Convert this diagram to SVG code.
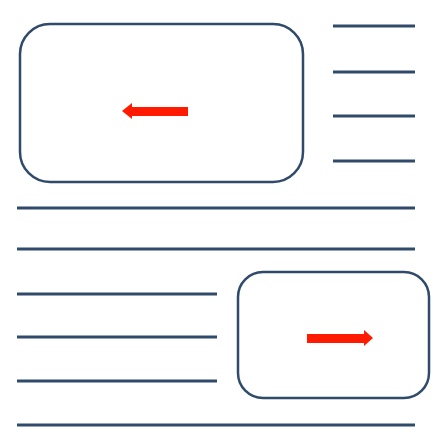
<svg xmlns="http://www.w3.org/2000/svg" width="434" height="436" viewBox="0 0 434 436">
<style>
.ln{stroke:#2f4a6a;stroke-width:3;fill:none}
.box{stroke:#2f4a6a;stroke-width:2.5;fill:#fff}
.arr{fill:#ff1a00}
</style>
<rect width="434" height="436" fill="#fff"/>
<g id="lines">
<line class="ln" x1="333" y1="26" x2="415" y2="26"/>
<line class="ln" x1="333" y1="72" x2="415" y2="72"/>
<line class="ln" x1="333" y1="116" x2="415" y2="116"/>
<line class="ln" x1="333" y1="161" x2="415" y2="161"/>
<line class="ln" x1="17" y1="208" x2="415" y2="208"/>
<line class="ln" x1="17" y1="249" x2="415" y2="249"/>
<line class="ln" x1="17" y1="294" x2="217" y2="294"/>
<line class="ln" x1="17" y1="337" x2="217" y2="337"/>
<line class="ln" x1="17" y1="381" x2="217" y2="381"/>
<line class="ln" x1="17" y1="425" x2="415" y2="425"/>
</g>
<g id="box-top">
<rect class="box" x="20" y="24" width="283" height="158" rx="30" ry="30"/>
<polygon class="arr" points="122,111 132,103 132,107 188,107 188,116 132,116 132,119"/>
</g>
<g id="box-bottom">
<rect class="box" x="238" y="272" width="191" height="126" rx="25" ry="25"/>
<polygon class="arr" points="373,338 364,330 364,334 307,334 307,343 364,343 364,346"/>
</g>
</svg>
